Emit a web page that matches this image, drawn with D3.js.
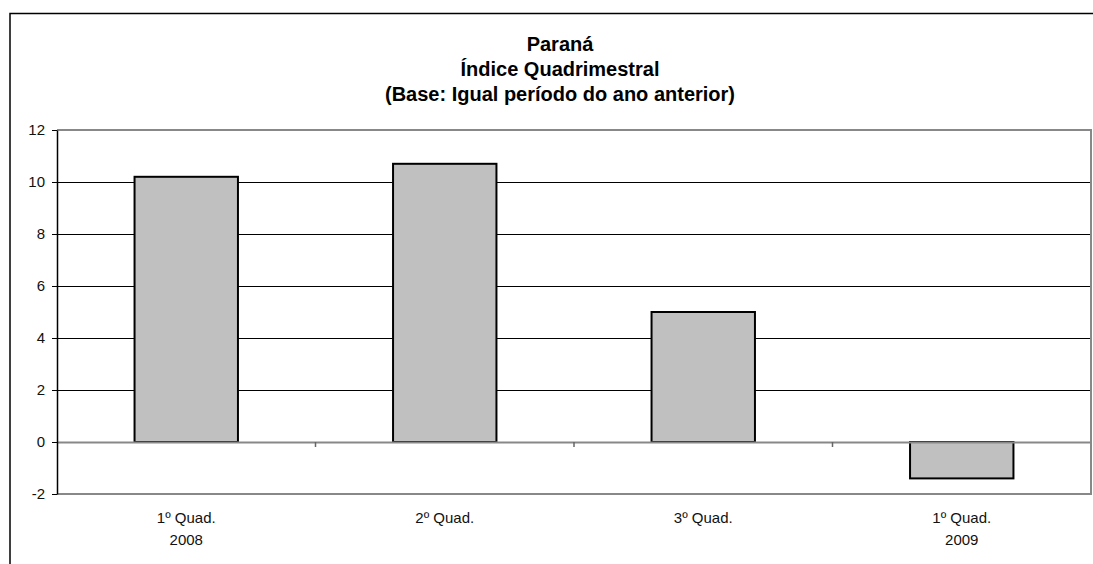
<!DOCTYPE html>
<html>
<head>
<meta charset="utf-8">
<script src="https://cdn.jsdelivr.net/npm/d3@7"></script>
<style>
	body { margin: 0; background: #fff; }
	text { font-family: Arial, "Liberation Sans", sans-serif; }
</style>
</head>
<body>
<div id="visHolder"></div>
<script>
const titleLines = ["Paraná", "Índice Quadrimestral", "(Base: Igual período do ano anterior)"];
const categories = [["1º Quad.", "2008"], ["2º Quad."], ["3º Quad."], ["1º Quad.", "2009"]];
const values = [10.2, 10.7, 5.0, -1.4];
const yTicks = [-2, 0, 2, 4, 6, 8, 10, 12];

const width = 1093;
const height = 564;
const plot = { left: 57, top: 130, right: 1091, bottom: 494 };

const svg = d3
	.select("#visHolder")
	.append("svg")
	.attr("width", width)
	.attr("height", height);

// outer chart border (runs off the right and bottom)
svg
	.append("rect")
	.attr("x", 10)
	.attr("y", 13.5)
	.attr("width", width + 20)
	.attr("height", height + 20)
	.attr("fill", "none")
	.attr("stroke", "black")
	.attr("stroke-width", 1.5);

const title = svg
	.append("text")
	.attr("text-anchor", "middle")
	.attr("font-weight", "bold")
	.attr("font-size", "20px");
titleLines.forEach((line, i) => {
	title
		.append("tspan")
		.attr("x", 560)
		.attr("y", 51 + i * 25)
		.text(line);
});

const keys = categories.map((c, i) => i);
const x = d3.scaleBand().domain(keys).range([plot.left, plot.right]);
const y = d3.scaleLinear().domain([-2, 12]).range([plot.bottom, plot.top]);

// gridlines
svg
	.append("g")
	.selectAll("line")
	.data(yTicks.filter((t) => t > 0 && t < 12))
	.join("line")
	.attr("x1", plot.left)
	.attr("x2", plot.right)
	.attr("y1", (d) => y(d) + 0.5)
	.attr("y2", (d) => y(d) + 0.5)
	.attr("stroke", "black")
	.attr("stroke-width", 1);

// plot frame
svg
	.append("path")
	.attr("d", `M${plot.left},${y(12)}H${plot.right}V${y(-2)}H${plot.left}`)
	.attr("fill", "none")
	.attr("stroke", "#888")
	.attr("stroke-width", 2);

// bars
const barW = x.bandwidth() * 0.4;
svg
	.append("g")
	.selectAll("rect")
	.data(values)
	.join("rect")
	.attr("x", (d, i) => x(i) + (x.bandwidth() - barW) / 2)
	.attr("y", (d) => y(Math.max(0, d)))
	.attr("width", barW)
	.attr("height", (d) => Math.abs(y(d) - y(0)))
	.attr("fill", "#c0c0c0")
	.attr("stroke", "black")
	.attr("stroke-width", 2);

// zero line with category ticks
const xAxis = svg
	.append("g")
	.attr("transform", `translate(0,${y(0)})`)
	.call(
		d3.axisBottom(x)
			.tickValues([])
			.tickSizeOuter(0)
	);
xAxis.select(".domain").attr("stroke", "#888").attr("stroke-width", 2);
xAxis
	.selectAll(".sep")
	.data(keys.slice(1))
	.join("line")
	.attr("class", "sep")
	.attr("x1", (d) => x(d))
	.attr("x2", (d) => x(d))
	.attr("y1", 0)
	.attr("y2", 5)
	.attr("stroke", "#666")
	.attr("stroke-width", 1.5);

// category labels
const labels = svg
	.append("g")
	.selectAll("text")
	.data(categories)
	.join("text")
	.attr("text-anchor", "middle")
	.attr("font-size", "15px")
	.attr("fill", "#111");
labels
	.selectAll("tspan")
	.data((d, i) => d.map((line) => ({ line, i })))
	.join("tspan")
	.attr("x", (d) => x(d.i) + x.bandwidth() / 2)
	.attr("y", (d, j) => 523 + j * 22)
	.text((d) => d.line);

// y axis
const yAxis = svg
	.append("g")
	.attr("transform", `translate(${plot.left},0)`)
	.call(
		d3.axisLeft(y)
			.tickValues(yTicks)
			.tickSize(5)
			.tickSizeOuter(0)
			.tickPadding(7)
			.tickFormat((d) => String(d))
	);
yAxis.select(".domain").attr("stroke", "black").attr("stroke-width", 1.5);
yAxis.selectAll(".tick line").attr("stroke", "black");
yAxis
	.selectAll(".tick text")
	.attr("font-size", "15px")
	.attr("font-family", "Arial, 'Liberation Sans', sans-serif")
	.attr("fill", "#111");
</script>
</body>
</html>
